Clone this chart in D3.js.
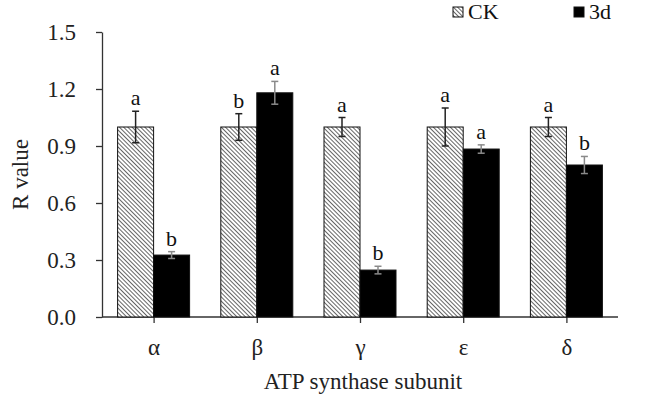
<!DOCTYPE html>
<html>
<head>
<meta charset="utf-8">
<script src="https://cdn.jsdelivr.net/npm/d3@7"></script>
<style>
body { margin: 0; background: #fff; }
text { font-family: "Liberation Serif", "Times New Roman", serif; }
</style>
</head>
<body>
<div id="chart"></div>
<script>
// data
var subunits = ["α", "β", "γ", "ε", "δ"];
var ckValues = [1.0, 1.0, 1.0, 1.0, 1.0];
var ckErrors = [0.083, 0.07, 0.05, 0.10, 0.05];
var ckLetters = ["a", "b", "a", "a", "a"];
var d3Values = [0.326, 1.18, 0.247, 0.884, 0.80];
var d3Errors = [0.018, 0.06, 0.02, 0.022, 0.045];
var d3Letters = ["b", "a", "b", "a", "b"];
var yTicks = [0, 0.3, 0.6, 0.9, 1.2, 1.5];

var svgWidth = 654, svgHeight = 400;
var plotLeft = 102, plotRight = 618, plotTop = 32, plotBottom = 317;

var svg = d3.select("#chart").append("svg")
	.attr("width", svgWidth).attr("height", svgHeight);

// hatch pattern for CK (fine downward diagonal)
var defs = svg.append("defs");
var pat = defs.append("pattern")
	.attr("id", "hatch")
	.attr("patternUnits", "userSpaceOnUse")
	.attr("width", 3).attr("height", 3)
	.attr("patternTransform", "rotate(-45)");
pat.append("rect").attr("width", 3).attr("height", 3).attr("fill", "#fff");
pat.append("line").attr("x1", 0).attr("y1", 0).attr("x2", 0).attr("y2", 3)
	.attr("stroke", "#333").attr("stroke-width", 1.5);

var y = d3.scaleLinear().domain([0, 1.5]).range([plotBottom, plotTop]);
var xAxisScale = d3.scalePoint().domain(subunits).range([plotLeft, plotRight]).padding(0.5);
var barW = 36;

// axes
var yAxis = svg.append("g").attr("transform", "translate(" + plotLeft + ",0)")
	.call(d3.axisLeft(y).tickValues(yTicks).tickFormat(d3.format(".1f")).tickSize(6).tickSizeOuter(0));
var xAxis = svg.append("g").attr("transform", "translate(0," + plotBottom + ")")
	.call(d3.axisBottom(xAxisScale).tickSize(6).tickSizeOuter(0));
xAxis.select(".domain").remove();
xAxis.append("line").attr("x1", plotLeft).attr("x2", plotRight);
[yAxis, xAxis].forEach(function(g) {
	g.selectAll("path, line").attr("stroke", "#333").attr("stroke-width", 1.3);
	g.selectAll("text").attr("fill", "#222").style("font-size", "23px")
		.style("font-family", "Liberation Serif, serif");
});
yAxis.selectAll("text").attr("x", -26).attr("dy", "0.32em");
xAxis.selectAll("text").attr("y", 22).attr("dy", "0.71em");

// bars
subunits.forEach(function(s, i) {
	var cx = xAxisScale(s);
	var series = [
		{ v: ckValues[i], e: ckErrors[i], l: ckLetters[i], x0: cx - barW, fill: "url(#hatch)", ec: "#222" },
		{ v: d3Values[i], e: d3Errors[i], l: d3Letters[i], x0: cx, fill: "#000", ec: "#8a8a8a" }
	];
	series.forEach(function(b) {
		svg.append("rect")
			.attr("x", b.x0).attr("y", y(b.v))
			.attr("width", barW).attr("height", y(0) - y(b.v))
			.attr("fill", b.fill).attr("stroke", "#111").attr("stroke-width", 1);
		var mx = b.x0 + barW / 2;
		svg.append("line").attr("x1", mx).attr("x2", mx)
			.attr("y1", y(b.v + b.e)).attr("y2", y(b.v - b.e))
			.attr("stroke", b.ec).attr("stroke-width", 1.5);
		[b.v + b.e, b.v - b.e].forEach(function(ev) {
			svg.append("line").attr("x1", mx - 3.5).attr("x2", mx + 3.5)
				.attr("y1", y(ev)).attr("y2", y(ev))
				.attr("stroke", b.ec).attr("stroke-width", 1.5);
		});
		svg.append("text")
			.attr("x", mx).attr("y", y(b.v + b.e) - 6)
			.attr("text-anchor", "middle")
			.style("font-size", "22px").attr("fill", "#111")
			.text(b.l);
	});
});

// axis titles
svg.append("text")
	.attr("transform", "translate(28," + ((plotTop + plotBottom) / 2) + ") rotate(-90)")
	.attr("text-anchor", "middle")
	.style("font-size", "23px").attr("fill", "#222")
	.text("R value");
svg.append("text")
	.attr("x", (plotLeft + plotRight) / 2 + 3).attr("y", 389)
	.attr("text-anchor", "middle")
	.style("font-size", "23px").attr("fill", "#222")
	.text("ATP synthase subunit");

// legend
var legend = [{ name: "CK", fill: "url(#hatch)", x: 453 }, { name: "3d", fill: "#000", x: 574 }];
legend.forEach(function(d) {
	svg.append("rect").attr("x", d.x).attr("y", 7).attr("width", 10).attr("height", 10)
		.attr("fill", d.fill).attr("stroke", "#111").attr("stroke-width", 1);
	svg.append("text").attr("x", d.x + 15).attr("y", 19)
		.style("font-size", "22px").attr("fill", "#111")
		.text(d.name);
});
</script>
</body>
</html>
